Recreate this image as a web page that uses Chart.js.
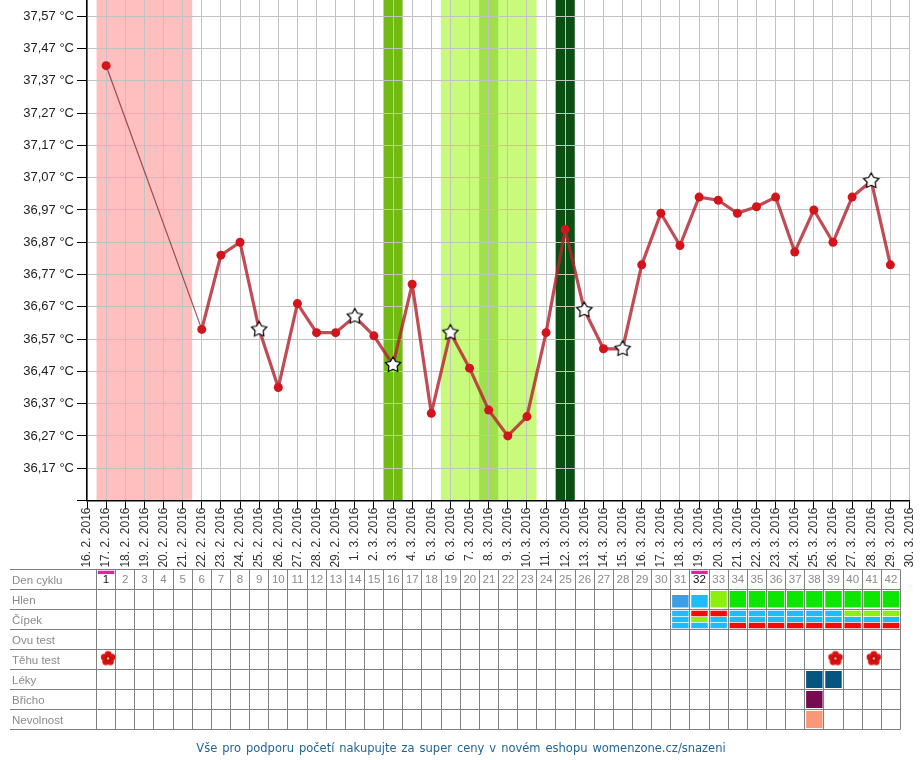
<!DOCTYPE html>
<html><head><meta charset="utf-8">
<style>
html,body{margin:0;padding:0;background:#fff;width:920px;height:760px;overflow:hidden}
#main{position:absolute;left:0;top:0}
#table{position:absolute;left:0;top:560px}
#foot{position:absolute;left:0;top:741px;width:922px;text-align:center;font:11.5px "DejaVu Sans",sans-serif;color:#1f6596;word-spacing:1.3px}
</style>
<script src="https://cdn.jsdelivr.net/npm/chart.js@4"></script>
</head><body>
<canvas id="main" width="920" height="570"></canvas>
<canvas id="table" width="920" height="180"></canvas>
<div id="foot">Vše pro podporu početí nakupujte za super ceny v novém eshopu womenzone.cz/snazeni</div>
<script>
const dates = ['16. 2. 2016','17. 2. 2016','18. 2. 2016','19. 2. 2016','20. 2. 2016','21. 2. 2016','22. 2. 2016','23. 2. 2016','24. 2. 2016','25. 2. 2016','26. 2. 2016','27. 2. 2016','28. 2. 2016','29. 2. 2016','1. 3. 2016','2. 3. 2016','3. 3. 2016','4. 3. 2016','5. 3. 2016','6. 3. 2016','7. 3. 2016','8. 3. 2016','9. 3. 2016','10. 3. 2016','11. 3. 2016','12. 3. 2016','13. 3. 2016','14. 3. 2016','15. 3. 2016','16. 3. 2016','17. 3. 2016','18. 3. 2016','19. 3. 2016','20. 3. 2016','21. 3. 2016','22. 3. 2016','23. 3. 2016','24. 3. 2016','25. 3. 2016','26. 3. 2016','27. 3. 2016','28. 3. 2016','29. 3. 2016','30. 3. 2016'];
const temps = [null,37.417,null,null,null,null,36.60,36.83,36.87,36.60,36.42,36.68,36.59,36.59,36.64,36.58,36.49,36.74,36.34,36.59,36.48,36.35,36.27,36.33,36.59,36.91,36.66,36.54,36.54,36.80,36.96,36.86,37.01,37.00,36.96,36.98,37.01,36.84,36.97,36.87,37.01,37.06,36.80,null];
const starDates = ['25. 2. 2016','1. 3. 2016','3. 3. 2016','6. 3. 2016','13. 3. 2016','15. 3. 2016','28. 3. 2016'];
const yTicks = [36.07,36.17,36.27,36.37,36.47,36.57,36.67,36.77,36.87,36.97,37.07,37.17,37.27,37.37,37.47,37.57];
const yMin = 36.07, yMax = 37.6205;
const pinkDates = ['17. 2. 2016','21. 2. 2016'];
const lightDates = ['6. 3. 2016','10. 3. 2016'];
const midDates = ['8. 3. 2016','8. 3. 2016'];
const greenDates = ['3. 3. 2016','3. 3. 2016'];
const darkDates = ['12. 3. 2016','12. 3. 2016'];

const days = Array.from({length:42},(_,i)=>String(i+1));
const rows = ['Den cyklu','Hlen','Čípek','Ovu test','Těhu test','Léky','Břicho','Nevolnost'];
const markedDays = [1,32];
const hlenBlue = [31], hlenSky = [32], hlenLime = [33], hlenGreen = [34,35,36,37,38,39,40,41,42];
const cipekTopSky = [31,34,35,36,37,38,39], cipekTopRed = [32,33], cipekTopLime = [40,41,42];
const cipekMidSky = [31,33,34,35,36,37,38,39,40,41,42], cipekMidLime = [32];
const cipekLowSky = [31,32,33], cipekLowRed = [34,35,36,37,38,39,40,41,42];
const testDays = [1,39,41], lekyDays = [38,39], brichoDays = [38], nevolnostDays = [38];

const FONT = '"Liberation Sans", Arial, sans-serif';
function sprite(w, h, draw){const c=document.createElement('canvas');c.width=w;c.height=h;draw(c.getContext('2d'),w/2,h/2);return c;}
const starImg = sprite(22,22,(g,cx,cy)=>{
  g.beginPath();
  for(let i=0;i<10;i++){const r=i%2?4.3:8,a=-Math.PI/2+i*Math.PI/5;g[i?'lineTo':'moveTo'](cx+r*Math.cos(a),cy+r*Math.sin(a));}
  g.closePath();g.fillStyle='#fff';g.fill();g.lineWidth=1.2;g.lineJoin='miter';g.strokeStyle='#000';g.stroke();
});
const flowerImg = sprite(24,24,(g,cx0,cy0)=>{
  const cx=cx0+2, cy=cy0-1;
  g.fillStyle='#dc0f0f';
  for(let i=0;i<5;i++){const a=-Math.PI/2+i*2*Math.PI/5;g.beginPath();g.arc(cx+4*Math.cos(a),cy+4*Math.sin(a),3.4,0,7);g.fill();}
  g.fillStyle='#b00808';g.beginPath();g.arc(cx,cy,2.8,0,7);g.fill();
  g.fillStyle='#ffc0a8';g.beginPath();g.arc(cx,cy,1.3,0,7);g.fill();
});

const bandsPlugin = {id:'bands',beforeDraw(chart){
  const {ctx,chartArea:a,scales:{x}}=chart;
  const band=(r,col)=>{const l=x.getPixelForValue(dates.indexOf(r[0])-0.5),h=x.getPixelForValue(dates.indexOf(r[1])+0.5);ctx.fillStyle=col;ctx.fillRect(l,a.top,h-l,a.bottom-a.top);};
  band(pinkDates,'#ffbfbf');band(lightDates,'#c8fb7c');band(midDates,'#a0e04a');band(greenDates,'#72bb14');band(darkDates,'#0a4f14');
}};
function noPad(s){s.paddingTop=0;s.paddingBottom=0;s.paddingLeft=0;s.paddingRight=0;}

new Chart(document.getElementById('main'),{
  type:'line',
  data:{labels:dates,datasets:[{
    data:temps,spanGaps:true,
    borderColor:'rgba(178,36,48,0.82)',borderWidth:3.2,borderJoinStyle:'round',tension:0,
    segment:{
      borderWidth:c=>(c.p0.skip||c.p1.skip)?1.2:3.2,
      borderColor:c=>(c.p0.skip||c.p1.skip)?'rgba(140,50,60,0.85)':undefined
    },
    pointRadius:4.5,pointHoverRadius:4.5,pointBorderWidth:0,
    pointBackgroundColor:'#d4141c',
    pointStyle:c=>starDates.includes(dates[c.dataIndex])?starImg:'circle'
  }]},
  plugins:[bandsPlugin],
  options:{
    responsive:false,animation:false,
    layout:{autoPadding:false,padding:{left:0,right:10.5,top:0,bottom:0}},
    plugins:{legend:{display:false},tooltip:{enabled:false},title:{display:false}},
    scales:{
      x:{type:'category',offset:false,
        grid:{color:'#c2c2c2',tickColor:'#000',tickLength:9,lineWidth:1},
        border:{color:'#000',width:1.5},
        ticks:{autoSkip:false,minRotation:90,maxRotation:90,padding:-2,color:'#333',font:{family:FONT,size:12}},
        afterFit(s){s.height=69.5;noPad(s);}
      },
      y:{type:'linear',min:yMin,max:yMax,
        afterBuildTicks(s){s.ticks=yTicks.map(v=>({value:v}));},
        grid:{color:'#c2c2c2',tickColor:'#000',tickLength:10,lineWidth:1},
        border:{color:'#000',width:1.5},
        ticks:{padding:3,color:'#222',font:{family:FONT,size:13},autoSkip:false,
          callback:v=>v===yTicks[0]?'':v.toFixed(2).replace('.',',')+' °C'},
        afterFit(s){s.width=87;noPad(s);}
      }
    }
  }
});

const R = {top:0,hlen:1,cipek:2,test:4,leky:5,bricho:6,nev:7};
function barSet(list,color,a,b){return {type:'bar',yAxisID:'v',backgroundColor:color,borderWidth:0,grouped:false,
  barPercentage:0.86,categoryPercentage:1,
  data:days.map(d=>list.includes(+d)?[a,b]:null)};}
const CH=20, cell=(row,from,to)=>[row+from/CH,row+to/CH];
const SKY='#1ebcfa',RED='#f80808',LIME='#8cf00e',GREEN='#0ce600';
const sets=[
  barSet(markedDays,'#e0249c',...cell(R.top,1.2,4.5)),
  barSet(hlenBlue,'#3a9fe6',...cell(R.hlen,5.5,18)),
  barSet(hlenSky,SKY,...cell(R.hlen,5.5,18)),
  barSet(hlenLime,LIME,...cell(R.hlen,1.5,18)),
  barSet(hlenGreen,GREEN,...cell(R.hlen,1.5,18)),
  barSet(cipekTopSky,SKY,...cell(R.cipek,1.2,6.8)),
  barSet(cipekTopRed,RED,...cell(R.cipek,1.2,6.8)),
  barSet(cipekTopLime,LIME,...cell(R.cipek,1.2,6.8)),
  barSet(cipekMidSky,SKY,...cell(R.cipek,7.5,12.5)),
  barSet(cipekMidLime,LIME,...cell(R.cipek,7.5,12.5)),
  barSet(cipekLowSky,SKY,...cell(R.cipek,13.2,18.8)),
  barSet(cipekLowRed,RED,...cell(R.cipek,13.2,18.8)),
  barSet(lekyDays,'#04557f',...cell(R.leky,1.5,18.5)),
  barSet(brichoDays,'#780a50',...cell(R.bricho,1.5,18.5)),
  barSet(nevolnostDays,'#f89878',...cell(R.nev,1.5,18.5)),
  {type:'line',yAxisID:'v',showLine:false,pointStyle:flowerImg,pointRadius:8,
   data:days.map(d=>testDays.includes(+d)?R.test+0.5:null)}
];
new Chart(document.getElementById('table'),{
  type:'bar',
  data:{labels:days,datasets:sets},
  options:{
    responsive:false,animation:false,
    layout:{autoPadding:false,padding:{left:12,right:19.5,top:9.5,bottom:10.5}},
    plugins:{legend:{display:false},tooltip:{enabled:false},title:{display:false}},
    scales:{
      x:{type:'category',position:'top',offset:true,
        grid:{offset:true,color:'#808080',drawTicks:false,lineWidth:1},
        border:{display:false},
        ticks:{autoSkip:false,mirror:true,maxRotation:0,minRotation:0,padding:3.5,font:{family:FONT,size:11.5},
          color:c=>markedDays.includes(c.index+1)?'#111':'#8a8a8a'},
        afterFit(s){s.height=0;noPad(s);}
      },
      y:{type:'category',labels:rows,offset:true,
        grid:{offset:true,color:'#808080',tickColor:'#808080',tickLength:86.5,lineWidth:1},
        border:{display:false},
        ticks:{crossAlign:'far',padding:0,labelOffset:1,color:'#8a8a8a',autoSkip:false,font:{family:FONT,size:11.5}},
        afterFit(s){s.width=84.5;noPad(s);}
      },
      v:{type:'linear',display:false,min:0,max:8,reverse:true}
    }
  }
});
</script>
</body></html>
